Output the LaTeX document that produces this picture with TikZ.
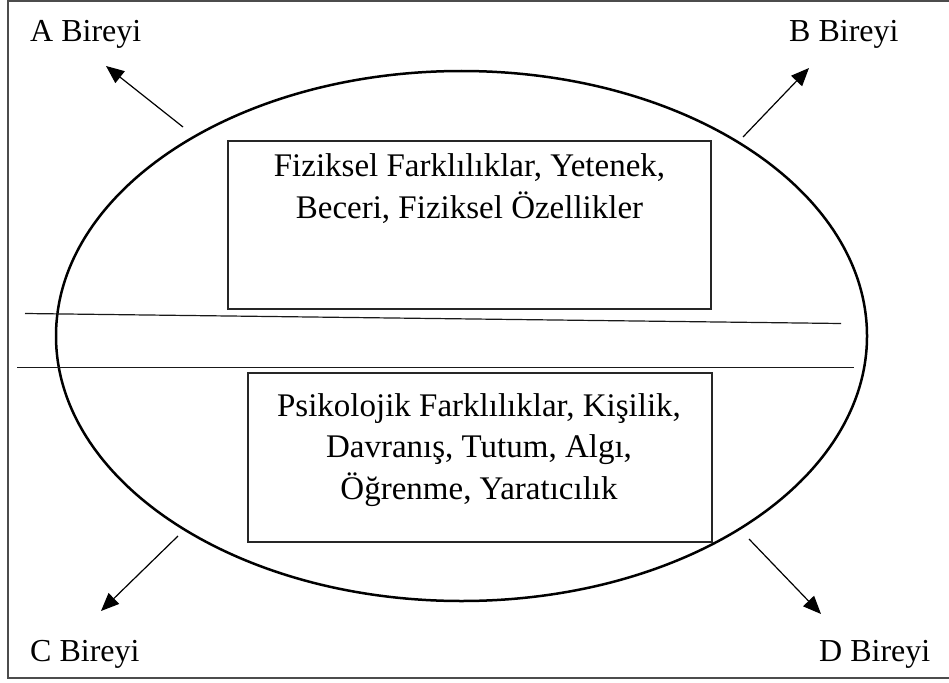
\documentclass[tikz,border=0pt]{standalone}
\usepackage{fontspec}
\setmainfont{Liberation Serif}
\usetikzlibrary{shapes.geometric,arrows.meta}
\tikzset{
  boxst/.style={draw=black!85, line width=1.3pt, inner sep=0pt},
  txt/.style={align=center, font=\fontsize{33}{41.5}\selectfont, inner sep=0pt},
  lbl/.style={font=\fontsize{32}{36}\selectfont, inner sep=0pt, anchor=base west},
  arr/.style={line width=1.2pt, -{Triangle[length=18pt,width=15pt]}},
  sep/.style={line width=1.2pt, draw=black!90},
}
\begin{document}
\begin{tikzpicture}[x=1pt,y=-1pt]
\useasboundingbox (0,0) rectangle (949,682);
\fill[white] (0,0) rectangle (949,682);
% outer frame (open at right)
\draw[line width=1.6pt, black!70] (949,1) -- (8,1) -- (8,678) -- (949,678);
% ellipse
\node[draw, ellipse, line width=2.5pt, minimum width=811pt, minimum height=530pt, inner sep=0pt] (ell) at (461.5,336) {};
% separating lines
\coordinate (s1) at (25,313.5);
\coordinate (s2) at (841,323.5);
\coordinate (h1) at (17,367.5);
\coordinate (h2) at (854,367.5);
\draw[sep] (s1) -- (s2);
\draw[sep] (h1) -- (h2);
% boxes
\node[boxst, minimum width=483pt, minimum height=168pt] (tb) at (469.5,225) {};
\node[txt] (tbt) at (469.5,188.5) {Fiziksel Farklılıklar, Yetenek,\\Beceri, Fiziksel Özellikler};
\node[boxst, minimum width=464pt, minimum height=169pt] (bb) at (480,457.5) {};
\node[txt] (bbt) at (479,450) {Psikolojik Farklılıklar, Kişilik,\\Davranış, Tutum, Algı,\\Öğrenme, Yaratıcılık};
% labels
\node[lbl] (A) at (30,42) {A Bireyi};
\node[lbl] (B) at (789,42) {B Bireyi};
\node[lbl] (C) at (30,661) {C Bireyi};
\node[lbl] (D) at (819,661) {D Bireyi};
% arrows
\coordinate (a1) at (183,127); \coordinate (a2) at (106,66);
\coordinate (b1) at (743,137); \coordinate (b2) at (809,68);
\coordinate (c1) at (178,536); \coordinate (c2) at (101,611);
\coordinate (d1) at (749,539); \coordinate (d2) at (821,614);
\draw[arr] (a1) -- (a2);
\draw[arr] (b1) -- (b2);
\draw[arr] (c1) -- (c2);
\draw[arr] (d1) -- (d2);
\end{tikzpicture}
\end{document}
